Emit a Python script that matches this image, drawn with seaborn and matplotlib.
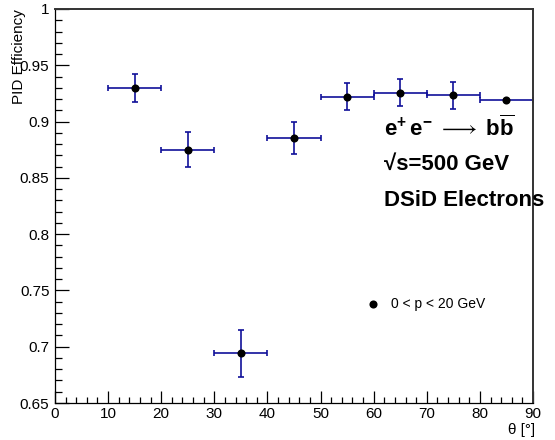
import matplotlib
matplotlib.use("Agg")
import matplotlib.pyplot as plt
import matplotlib.ticker as mticker
import seaborn as sns
import pandas as pd

# ---- data ----
theta = [15, 25, 35, 45, 55, 65, 75, 85]
theta_err = [5, 5, 5, 5, 5, 5, 5, 5]
efficiency = [0.9296, 0.875, 0.694, 0.885, 0.922, 0.9257, 0.9233, 0.9192]
efficiency_err = [0.0125, 0.0155, 0.021, 0.0142, 0.012, 0.0119, 0.012, 0.001]
legend_label = "0 < p < 20 GeV"
x_ticks = [0, 10, 20, 30, 40, 50, 60, 70, 80, 90]
y_ticks = [0.65, 0.7, 0.75, 0.8, 0.85, 0.9, 0.95, 1.0]

df = pd.DataFrame({"theta": theta, "eff": efficiency})

sns.set_theme(style="ticks")
plt.rcParams["font.family"] = ["Liberation Sans", "DejaVu Sans"]
plt.rcParams["text.color"] = "black"
plt.rcParams["axes.labelcolor"] = "black"
plt.rcParams["mathtext.fontset"] = "custom"
plt.rcParams["mathtext.rm"] = "Liberation Sans:bold"
plt.rcParams["mathtext.it"] = "Liberation Sans:bold"
plt.rcParams["mathtext.bf"] = "Liberation Sans:bold"

fig = plt.figure(figsize=(5.55, 4.4), dpi=100)
ax = fig.add_axes([55 / 555, 1 - 403 / 440, 478 / 555, 394 / 440])

ax.errorbar(theta, efficiency, xerr=theta_err, yerr=efficiency_err, fmt="none",
            ecolor="#10109a", elinewidth=1.2, capsize=2.2, capthick=1.2, zorder=2)
sns.scatterplot(data=df, x="theta", y="eff", ax=ax, color="black", s=34,
                linewidth=0, label=legend_label, zorder=3)

ax.set_xlim(0, 90)
ax.set_ylim(0.65, 1.0)
ax.xaxis.set_major_locator(mticker.FixedLocator(x_ticks))
ax.xaxis.set_minor_locator(mticker.MultipleLocator(2))
ax.yaxis.set_major_locator(mticker.FixedLocator(y_ticks))
ax.yaxis.set_minor_locator(mticker.MultipleLocator(0.01))
ax.yaxis.set_major_formatter(mticker.FuncFormatter(lambda v, p: f"{v:g}"))
ax.xaxis.set_major_formatter(mticker.FuncFormatter(lambda v, p: f"{v:g}"))

ax.tick_params(axis="both", which="both", direction="in", top=False, right=False,
               colors="black", labelsize=11, width=0.9)
ax.tick_params(axis="y", which="major", length=10, pad=4)
ax.tick_params(axis="y", which="minor", length=5)
ax.tick_params(axis="x", which="major", length=8.6, pad=3)
ax.tick_params(axis="x", which="minor", length=4.3)

for side in ["left", "bottom"]:
    ax.spines[side].set_color("black")
    ax.spines[side].set_linewidth(0.9)
for side in ["top", "right"]:
    ax.spines[side].set_color("#333333")
    ax.spines[side].set_linewidth(1.4)

ax.set_xlabel("θ [°]", fontsize=11, loc="right")
ax.xaxis.label.set(ha="right", va="top")
ax.xaxis.set_label_coords(1.004, -0.05)
ax.set_ylabel("PID Efficiency", fontsize=11)
ax.yaxis.label.set(rotation_mode="default", ha="center", va="top")
ax.yaxis.set_label_coords((18.8 - 55) / 478, 1.0)

leg = ax.legend(loc="center left", bbox_to_anchor=(365.75 / 555, 1 - 303.5 / 440),
                bbox_transform=fig.transFigure, frameon=False, fontsize=10,
                borderpad=0, borderaxespad=0, handlelength=1.0, handletextpad=0.8,
                markerscale=1.0)

fig.text(384 / 555, 1 - 135.7 / 440,
         r"$\mathbf{e^{+}\,e^{-}}\;\longrightarrow\;\mathbf{b\overline{b}}$",
         fontsize=16, va="baseline", ha="left")
fig.text(384 / 555, 1 - 170 / 440, "√s=500 GeV", fontsize=16,
         fontweight="bold", va="baseline", ha="left")
fig.text(384 / 555, 1 - 206 / 440, "DSiD Electrons", fontsize=16,
         fontweight="bold", va="baseline", ha="left")

fig.savefig("out.png", dpi=100, facecolor="white")
